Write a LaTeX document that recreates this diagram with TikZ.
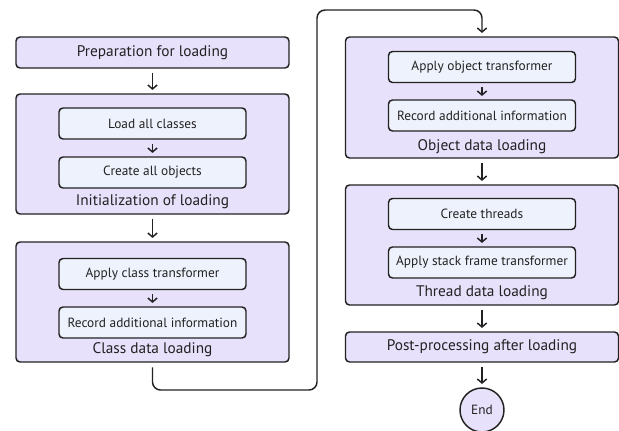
\documentclass[tikz,border=0pt]{standalone}
\usepackage{fontspec}
\setmainfont{PT Sans}
\usetikzlibrary{arrows.meta}
\definecolor{groupfill}{HTML}{E8E1FC}
\definecolor{stepfill}{HTML}{EEF2FC}
\definecolor{edge}{HTML}{222222}
\begin{document}
\begin{tikzpicture}[x=0.75pt, y=-0.75pt,
    group/.style={draw=edge, line width=1.1pt, fill=groupfill, rounded corners=3pt, minimum width=204.75pt},
    stepbox/.style={draw=edge, line width=1.1pt, fill=stepfill, rounded corners=3pt, minimum width=140.25pt, minimum height=23.25pt, font=\fontsize{10pt}{12pt}\selectfont},
    grouplabel/.style={font=\fontsize{11.5pt}{14pt}\selectfont},
    arr/.style={-{Straight Barb[length=3pt, width=7pt]}, line width=1.1pt, draw=edge},
    every node/.style={text=edge}]
    \useasboundingbox (0,0) rectangle (619,430);
    % Left column: outer blocks
    \node[group, minimum height=23.25pt, font=\fontsize{11.5pt}{14pt}\selectfont] (prep) at (152.5,52.5) {Preparation for loading};
    \node[group, minimum height=90pt] (init) at (152.5,154) {};
    \node[group, minimum height=90pt] (cls) at (152.5,302) {};
    % Left column: inner steps
    \node[stepbox] (load) at (152.5,123.5) {Load all classes};
    \node[stepbox] (create) at (152.5,172.5) {Create all objects};
    \node[grouplabel] (initlbl) at (152.5,202) {Initialization of loading};
    \node[stepbox] (clstrans) at (152.5,274) {Apply class transformer};
    \node[stepbox] (clsrec) at (152.5,322.5) {Record additional information};
    \node[grouplabel] (clslbl) at (152.5,350) {Class data loading};
    % Right column: outer blocks
    \node[group, minimum height=90.75pt] (obj) at (482,97.5) {};
    \node[group, minimum height=90pt] (thr) at (482,245) {};
    \node[group, minimum height=22.5pt, font=\fontsize{11.5pt}{14pt}\selectfont] (post) at (482,347) {Post-processing after loading};
    \node[draw=edge, line width=1.1pt, fill=groupfill, circle, minimum size=33pt, font=\fontsize{10pt}{12pt}\selectfont] (end) at (482,410) {End};
    % Right column: inner steps
    \node[stepbox] (objtrans) at (482,67) {Apply object transformer};
    \node[stepbox] (objrec) at (482,115.5) {Record additional information};
    \node[grouplabel] (objlbl) at (482,147) {Object data loading};
    \node[stepbox] (threads) at (482,214) {Create threads};
    \node[stepbox] (stack) at (482,262.5) {Apply stack frame transformer};
    \node[grouplabel] (thrlbl) at (482,293) {Thread data loading};
    % turning points of the long connector
    \coordinate (turnA) at (317,390);
    \coordinate (turnB) at (317,10);

    \draw[arr, shorten <=3pt, shorten >=2.5pt] (prep) -- (init);
    \draw[arr, shorten <=3pt, shorten >=2.5pt] (load) -- (create);
    \draw[arr, shorten <=3pt, shorten >=2.5pt] (init) -- (cls);
    \draw[arr, shorten <=3pt, shorten >=2.5pt] (clstrans) -- (clsrec);
    \draw[arr, rounded corners=6pt, shorten <=3.5pt, shorten >=2.5pt] (cls.south) |- (turnA) -- (turnB) -| (obj.north);
    \draw[arr, shorten <=3pt, shorten >=2.5pt] (objtrans) -- (objrec);
    \draw[arr, shorten <=3pt, shorten >=2.5pt] (obj) -- (thr);
    \draw[arr, shorten <=3pt, shorten >=2.5pt] (threads) -- (stack);
    \draw[arr, shorten <=3pt, shorten >=2.5pt] (thr) -- (post);
    \draw[arr, shorten <=3pt, shorten >=2.5pt] (post) -- (end);
\end{tikzpicture}
\end{document}
